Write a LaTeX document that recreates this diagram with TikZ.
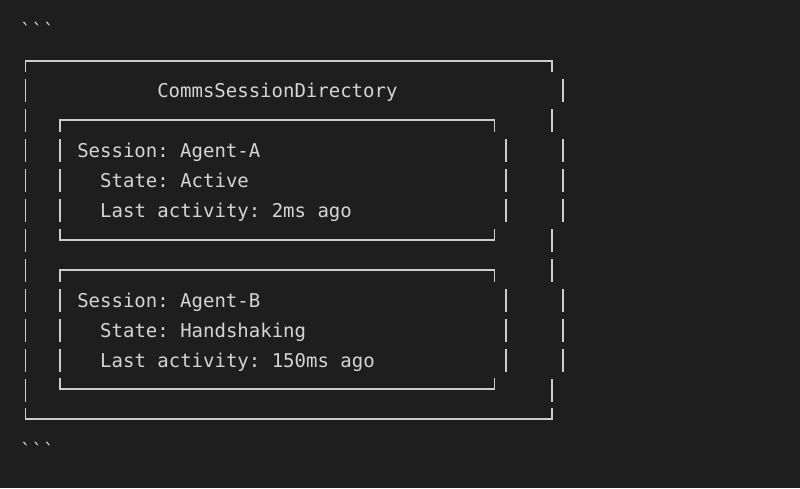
\documentclass[tikz,border=0pt]{standalone}
\usepackage{fontspec}
\setmonofont{DejaVu Sans Mono}
\definecolor{bg}{HTML}{1E1E1E}
\definecolor{fg}{HTML}{D4D4D4}
\definecolor{ln}{HTML}{CCCCCC}
\begin{document}
\begin{tikzpicture}[x=1pt,y=-1pt,
  txt/.style={anchor=base west, inner sep=0pt, text=fg, font=\fontsize{19}{19}\selectfont\ttfamily},
  box/.style={draw=ln, line width=1.5pt}]
\fill[bg] (0,0) rectangle (800,488);
\useasboundingbox (0,0) rectangle (800,488);
% fences
\node[txt] (tickA) at (20,37) {\symbol{96}\symbol{96}\symbol{96}};
\node[txt] (tickB) at (20,457) {\symbol{96}\symbol{96}\symbol{96}};
% outer frame corners and edges
\draw[box] (25.7,72) -- (25.7,61) -- (552,61) -- (552,72);
\draw[box] (25.7,408) -- (25.7,419) -- (552,419) -- (552,408);
\foreach \c in {90,120,...,390} \draw[box] (25.7,\c-11) -- (25.7,\c+11.7);
\foreach \c in {120,240,270,390} \draw[box] (552,\c-11) -- (552,\c+11.7);
\foreach \c in {90,150,180,210,300,330,360} \draw[box] (563,\c-11) -- (563,\c+11.7);
% inner boxes
\draw[box] (60,131.7) -- (60,120) -- (494.3,120) -- (494.3,131.7);
\draw[box] (60,229) -- (60,240) -- (494.3,240) -- (494.3,229);
\draw[box] (60,281.7) -- (60,270) -- (494.3,270) -- (494.3,281.7);
\draw[box] (60,378) -- (60,389) -- (494.3,389) -- (494.3,378);
\foreach \c in {150,180,210,300,330,360} {
  \draw[box] (60,\c-11) -- (60,\c+11.7);
  \draw[box] (506,\c-11) -- (506,\c+11.7);
}
% texts
\node[txt] (title) at (157.1,97.3) {CommsSessionDirectory};
\node[txt] (sA) at (77.1,157.3) {Session: Agent-A};
\node[txt] (stA) at (100,187.3) {State: Active};
\node[txt] (laA) at (100,217.3) {Last activity: 2ms ago};
\node[txt] (sB) at (77.1,307.3) {Session: Agent-B};
\node[txt] (stB) at (100,337.3) {State: Handshaking};
\node[txt] (laB) at (100,367.3) {Last activity: 150ms ago};
\end{tikzpicture}
\end{document}
